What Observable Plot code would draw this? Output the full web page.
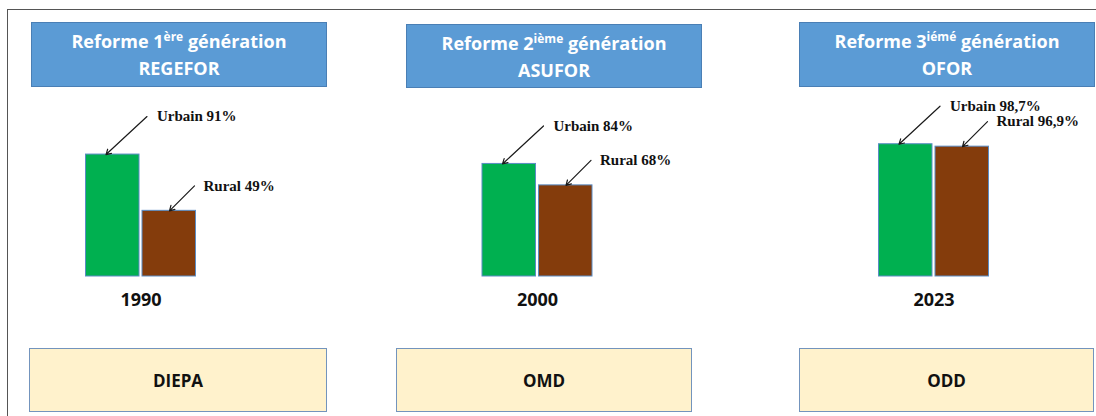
<!DOCTYPE html>
<html>
<head>
<meta charset="utf-8">
<script src="https://cdn.jsdelivr.net/npm/d3@7"></script>
<script src="https://cdn.jsdelivr.net/npm/@observablehq/plot@0.6"></script>
<style>
  html, body { margin: 0; padding: 0; background: #fff; }
  body { width: 1096px; height: 416px; position: relative; overflow: hidden; font-family: "Open Sans", Lato, sans-serif; }
  .frame { position: absolute; left: 7px; top: 9px; right: -2px; bottom: -2px; border-top: 1px solid #555; border-left: 1px solid #555; }
  .head { position: absolute; box-sizing: border-box; background: #5b9bd5; border: 1px solid #4a7fb5; color: #fff;
          font-weight: 700; font-size: 18px; line-height: 27px; text-align: center; padding-top: 5px; }
  .head sup { font-size: 12px; line-height: 0; vertical-align: 7px; }
  .foot { position: absolute; box-sizing: border-box; background: #fff2cc; border: 1.5px solid #7394bd; color: #111;
          font-weight: 700; font-size: 17px; display: flex; align-items: center; justify-content: center; }
  #chart { position: absolute; left: 0; top: 92px; }
</style>
</head>
<body>
<div class="frame"></div>
<div id="heads"></div>
<div id="chart"></div>
<div id="foots"></div>
<script>
// ---- data ----
const periods = ["1990", "2000", "2023"];
const urbain = [91, 84, 98.7];
const rural = [49, 68, 96.9];
const reformRank = ["1", "2", "3"];
const reformSuffix = ["ère", "ième", "iémé"];
const reformBody = ["REGEFOR", "ASUFOR", "OFOR"];
const frameworks = ["DIEPA", "OMD", "ODD"];

// ---- layout ----
const headBoxes = [[31, 22, 296, 65], [406, 24, 296, 64], [799, 22, 296, 65]];
const footBoxes = [[29, 348, 298, 64], [396, 348, 296, 64], [799, 348, 295, 64]];

const heads = document.getElementById("heads");
headBoxes.forEach(([l, t, w, h], i) => {
  const d = document.createElement("div");
  d.className = "head";
  Object.assign(d.style, {left: l + "px", top: t + "px", width: w + "px", height: h + "px"});
  d.innerHTML = `Reforme ${reformRank[i]}<sup>${reformSuffix[i]}</sup> génération<br>${reformBody[i]}`;
  heads.appendChild(d);
});
const foots = document.getElementById("foots");
footBoxes.forEach(([l, t, w, h], i) => {
  const d = document.createElement("div");
  d.className = "foot";
  Object.assign(d.style, {left: l + "px", top: t + "px", width: w + "px", height: h + "px"});
  d.textContent = frameworks[i];
  foots.appendChild(d);
});

const rows = periods.map((p, i) => ({i, period: p, urbain: urbain[i], rural: rural[i]}));
const fmt = v => String(v).replace(".", ",") + "%";

const W = 1096, H = 240, mL = 140.5, mR = 162.5, mT = 50, mB = 56;
const pxPerX = (W - mL - mR) / 2;          // x units -> pixels
const pxPerY = (H - mT - mB) / 100;        // y units -> pixels
const X = px => px / pxPerX;
const Y = px => px / pxPerY;

const serif = "'Liberation Serif', 'Times New Roman', serif";

const chart = Plot.plot({
  width: W, height: H,
  marginLeft: mL, marginRight: mR, marginTop: mT, marginBottom: mB,
  x: {domain: [0, 2], axis: null},
  y: {domain: [0, 100], axis: null},
  style: {background: "transparent", overflow: "visible"},
  marks: [
    Plot.rectY(rows, {x1: d => d.i - X(55), x2: d => d.i, y1: 0, y2: "urbain", insetRight: 1.5,
      fill: "#00b050", stroke: "#5b8cc4", strokeWidth: 1}),
    Plot.rectY(rows, {x1: d => d.i, x2: d => d.i + X(55), y1: 0, y2: "rural", insetLeft: 1.5,
      fill: "#843c0c", stroke: "#5b8cc4", strokeWidth: 1}),
    Plot.arrow(rows, {x1: d => d.i + X(6), y1: d => d.urbain + Y(38), x2: d => d.i - X(35), y2: "urbain",
      stroke: "#1a1a1a", strokeWidth: 1.2, headLength: 7}),
    Plot.arrow(rows, {x1: d => d.i + X(53.5), y1: d => d.rural + Y(25), x2: d => d.i + X(28.5), y2: "rural",
      stroke: "#1a1a1a", strokeWidth: 1.2, headLength: 7}),
    Plot.text(rows, {x: d => d.i + X(16), y: d => d.urbain + Y(38), text: d => "Urbain " + fmt(d.urbain),
      textAnchor: "start", fontFamily: serif, fontWeight: "bold", fontSize: 15, fill: "#111"}),
    Plot.text(rows, {x: d => d.i + X(62.5), y: d => d.rural + Y(25), text: d => "Rural " + fmt(d.rural),
      textAnchor: "start", fontFamily: serif, fontWeight: "bold", fontSize: 15, fill: "#111"}),
    Plot.text(rows, {x: "i", y: 0, text: "period", dy: 24,
      fontFamily: "'Open Sans', Lato, sans-serif", fontWeight: "bold", fontSize: 18, fill: "#111"})
  ]
});
document.getElementById("chart").appendChild(chart);
</script>
</body>
</html>
